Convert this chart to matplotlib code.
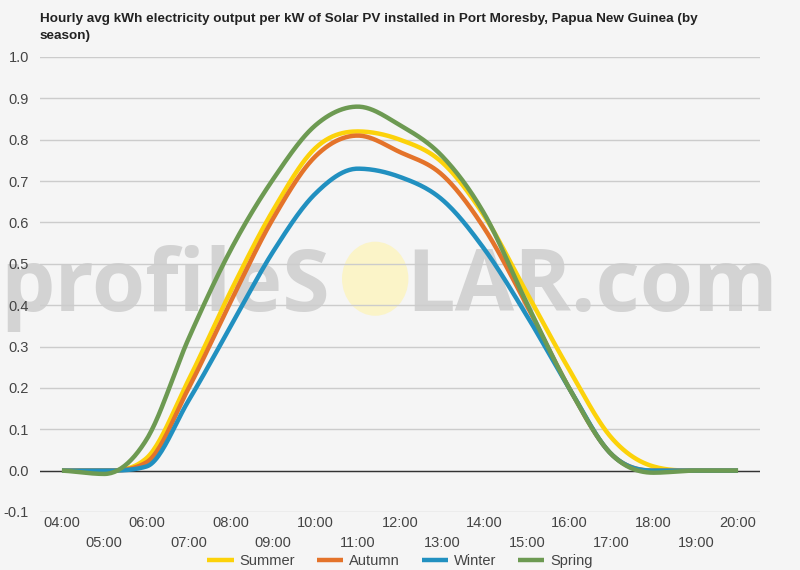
import numpy as np
import matplotlib
matplotlib.use("Agg")
import matplotlib.pyplot as plt
from matplotlib.patches import Ellipse

hours = list(range(4, 21))
hour_labels = ["%02d:00" % h for h in hours]

summer = [0.0, 0.0, 0.03, 0.22, 0.435, 0.63, 0.78, 0.82, 0.80, 0.745, 0.615, 0.43, 0.245, 0.08, 0.01, 0.0, 0.0]
autumn = [0.0, 0.0, 0.02, 0.20, 0.41, 0.61, 0.76, 0.81, 0.77, 0.715, 0.585, 0.40, 0.20, 0.04, 0.0, 0.0, 0.0]
winter = [0.0, 0.0, 0.01, 0.17, 0.35, 0.53, 0.67, 0.73, 0.71, 0.655, 0.535, 0.375, 0.20, 0.04, 0.0, 0.0, 0.0]
spring = [0.0, -0.008, 0.075, 0.32, 0.535, 0.705, 0.835, 0.88, 0.835, 0.76, 0.62, 0.405, 0.20, 0.04, -0.005, 0.0, 0.0]

series = {"Summer": summer, "Autumn": autumn, "Winter": winter, "Spring": spring}
colors = {"Summer": "#fcd20a", "Autumn": "#e4732a", "Winter": "#2190c0", "Spring": "#6d9a52"}


def smooth(x, y, n=25):
    # catmull-rom tangents, limited (fritsch-carlson) so flat parts don't wiggle
    x = np.asarray(x, float)
    y = np.asarray(y, float)
    h = np.diff(x)
    d = np.diff(y) / h
    m = np.zeros_like(y)
    m[1:-1] = (y[2:] - y[:-2]) / (x[2:] - x[:-2])
    m[0], m[-1] = d[0], d[-1]
    for i in range(len(d)):
        if d[i] == 0 or (i > 0 and d[i - 1] * d[i] < 0):
            if d[i] == 0:
                m[i] = m[i + 1] = 0
            else:
                m[i] = 0
            continue
        a, b = m[i] / d[i], m[i + 1] / d[i]
        if a < 0:
            m[i] = 0
        if b < 0:
            m[i + 1] = 0
        s = a * a + b * b
        if s > 9:
            tau = 3 / np.sqrt(s)
            m[i] = tau * a * d[i]
            m[i + 1] = tau * b * d[i]
    xs, ys = [], []
    t = np.linspace(0, 1, n, endpoint=False)
    for i in range(len(x) - 1):
        h00 = 2 * t ** 3 - 3 * t ** 2 + 1
        h10 = t ** 3 - 2 * t ** 2 + t
        h01 = -2 * t ** 3 + 3 * t ** 2
        h11 = t ** 3 - t ** 2
        xs.extend(x[i] + t * h[i])
        ys.extend(h00 * y[i] + h10 * h[i] * m[i] + h01 * y[i + 1] + h11 * h[i] * m[i + 1])
    xs.append(x[-1])
    ys.append(y[-1])
    return np.array(xs), np.array(ys)


plt.rcParams["font.family"] = ["Liberation Sans", "DejaVu Sans"]
bg = "#f5f5f5"
fig = plt.figure(figsize=(8, 5.7), dpi=100, facecolor=bg)
ax = fig.add_axes([0.05, 0.1018, 0.9, 0.7982])
ax.patch.set_visible(False)

ax.set_xlim(3.48, 20.52)
ax.set_ylim(-0.1, 1.0)
yt = np.arange(-0.1, 1.01, 0.1)
ax.set_yticks(yt)
ax.set_yticklabels(["%.1f" % v for v in yt], color="#444444", fontsize=10.5)
for v in yt:
    ax.axhline(v, color="#cccccc", lw=1, zorder=1)
ax.axhline(0, color="#333333", lw=1, zorder=2)

ax.set_xticks(hours[::2])
ax.set_xticklabels(hour_labels[::2], color="#444444", fontsize=10.5)
ax.set_xticks(hours[1::2], minor=True)
ax.set_xticklabels(hour_labels[1::2], minor=True, color="#444444", fontsize=10.5)
ax.tick_params(axis="x", which="major", length=0, pad=3)
ax.tick_params(axis="x", which="minor", length=0, pad=17)
ax.tick_params(axis="y", length=0, pad=8)
for s in ax.spines.values():
    s.set_visible(False)

# watermark, drawn under the axes
wm = dict(fontsize=62, color="#d3d3d3", fontweight="bold",
          family=["Open Sans", "DejaVu Sans"], zorder=-1, va="baseline")
fig.text(0.0, 0.455, "profileS", **wm)
fig.text(0.508, 0.455, "LAR.com", **wm)
fig.patches.append(Ellipse((0.469, 0.511), 0.083, 0.13, transform=fig.transFigure,
                           facecolor="#fbf4c8", edgecolor="none", zorder=-1))

for name, vals in series.items():
    sx, sy = smooth(hours, vals)
    ax.plot(sx, sy, color=colors[name], lw=3.2, label=name, zorder=5,
            solid_capstyle="butt")

fig.text(0.05, 0.951, "Hourly avg kWh electricity output per kW of Solar PV installed in Port Moresby, Papua New Guinea (by\nseason)",
         fontsize=9.7, fontweight="bold", color="#222222", va="center", linespacing=1.55)

fig.legend(loc="lower center", bbox_to_anchor=(0.5, -0.02), ncol=4, frameon=False,
           fontsize=10.5, handlelength=1.8, handletextpad=0.4, columnspacing=1.5,
           labelcolor="#444444")

fig.savefig("out.png", dpi=100, facecolor=bg)
